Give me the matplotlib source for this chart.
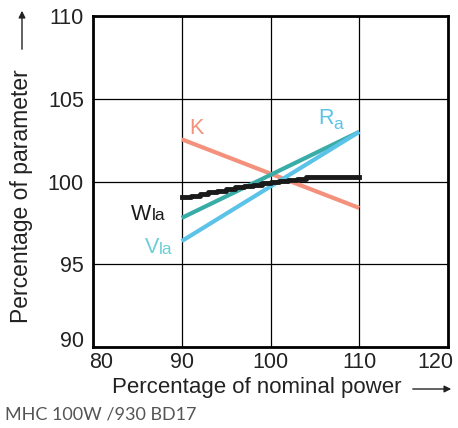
import matplotlib.pyplot as plt
from matplotlib.transforms import offset_copy

plt.rcParams['font.family'] = ['Liberation Sans', 'DejaVu Sans']

# percentage of nominal power
power = [90, 110]
k_vals = [102.55, 98.4]
ra_vals = [97.8, 103.0]
vla_vals = [96.4, 103.0]

# lamp power follows a small staircase, then levels off
wla_x = [90, 91, 92, 93, 94, 95, 96, 97, 98, 99, 100, 101, 102, 103, 104, 110]
wla_y = [99.05, 99.15, 99.25, 99.35, 99.45, 99.55, 99.65, 99.72, 99.8, 99.88,
         99.98, 100.05, 100.12, 100.18, 100.3, 100.3]

x_ticks = [80, 90, 100, 110, 120]
y_ticks = [90, 95, 100, 105, 110]

fig = plt.figure(figsize=(4.58, 4.28), dpi=100)
ax = fig.add_axes([93 / 458, 1 - 347 / 428, 355 / 458, 331 / 428])

ax.set_xlim(80, 120)
ax.set_ylim(90, 110)
ax.set_xticks(x_ticks)
ax.set_yticks(y_ticks)
ax.grid(True, color='black', linewidth=0.9)
ax.set_axisbelow(True)
for s in ax.spines.values():
    s.set_linewidth(2)
ax.tick_params(length=0, colors='#222222')
ax.tick_params(axis='y', labelsize=15.5, pad=6.5)
ax.set_xticklabels([])
ax.get_yticklabels()[0].set_verticalalignment('baseline')

# x tick labels drawn by hand, the outer ones are nudged inward like the original
nudge = {80: 0.9, 120: -1.45}
for v in x_ticks:
    ax.text(v + nudge.get(v, 0), 89.7, str(v), ha='center', va='top',
            fontsize=15.5, color='#222222')

ax.plot(power, k_vals, color='#f4917c', lw=3, solid_capstyle='butt')
ax.plot(power, ra_vals, color='#3aaca8', lw=3, solid_capstyle='butt')
ax.plot(power, vla_vals, color='#5bc3e8', lw=3, solid_capstyle='butt')
ax.step(wla_x, wla_y, where='post', color='#1a1a1a', lw=3.5)

fig.canvas.draw()
renderer = fig.canvas.get_renderer()


def label(x, y, main, sub, color, drop):
    t = ax.text(x, y, main, color=color, fontsize=15.5)
    w = t.get_window_extent(renderer).width * 72 / fig.dpi
    if sub:
        tr = offset_copy(ax.transData, fig=fig, x=w, y=-drop, units='points')
        ax.text(x, y, sub, color=color, fontsize=12.5, transform=tr)


label(90.9, 102.9, 'K', '', '#f4917c', 0)
label(105.35, 103.5, 'R', 'a', '#5bc3e8', 4)
label(84.3, 97.7, 'W', 'la', '#1a1a1a', 0.5)
label(85.8, 95.7, 'V', 'la', '#6dcfd6', 1)

fig.text(112 / 458, 1 - 388 / 428, 'Percentage of nominal power', fontsize=16,
         va='center', ha='left', color='#222222')
fig.text(22 / 458, 1 - 196 / 428, 'Percentage of parameter', fontsize=16.5,
         rotation=90, va='center', ha='center', color='#222222')
ax.annotate('', xy=(454 / 458, 1 - 389 / 428), xytext=(410 / 458, 1 - 389 / 428),
            xycoords='figure fraction',
            arrowprops=dict(arrowstyle='-|>', color='#222222', lw=1, mutation_scale=10))
ax.annotate('', xy=(22 / 458, 1 - 8 / 428), xytext=(22 / 458, 1 - 52 / 428),
            xycoords='figure fraction',
            arrowprops=dict(arrowstyle='-|>', color='#222222', lw=1, mutation_scale=10))

fig.text(5 / 458, 1 - 415 / 428, 'MHC 100W /930 BD17', fontsize=13,
         color='#555555', va='center', ha='left', family=['Lato', 'DejaVu Sans'])

fig.savefig('out.png', dpi=100)
